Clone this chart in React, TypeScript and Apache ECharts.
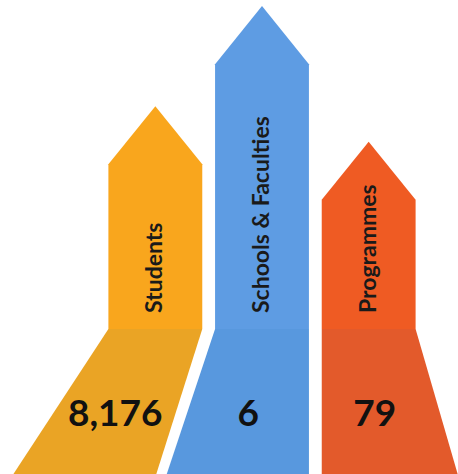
import React, { useEffect, useRef } from "react";
import * as echarts from "echarts";

// Data
const categories = ["Students", "Schools & Faculties", "Programmes"];
const values = [8176, 6, 79];
// Relative arrow heights (0–100 scale, tallest = 100)
const arrowHeight = [69, 100, 58];

const topColors = ["#F9A61D", "#5E9CE3", "#EF5B23"];
const bottomColors = ["#EAA425", "#5898DE", "#E35A2B"];
// slope (dx per dy) of the left / right edges of the lower part of each column
const skew = [
  [-0.655, -0.317],
  [-0.333, 0],
  [0, 0.29],
];

const FONT = "Lato, 'Open Sans', sans-serif";

export default function App() {
  const ref = useRef<HTMLDivElement>(null);
  useEffect(() => {
    document.body.style.margin = "0";
    if (!ref.current) return;
    const chart = echarts.init(ref.current, undefined, { renderer: "svg" });
    chart.setOption({
      animation: false,
      backgroundColor: "#ffffff",
      grid: { left: 102, right: 36, top: 6, bottom: 145 },
      xAxis: { type: "category", data: categories, show: false },
      yAxis: { type: "value", min: 0, max: 100, show: false },
      series: [
        {
          type: "custom",
          clip: false,
          silent: true,
          data: categories.map((c, i) => [c, arrowHeight[i]]),
          renderItem: (params: any, api: any) => {
            const i = params.dataIndex;
            const base = api.coord([api.value(0), 0]);
            const top = api.coord([api.value(0), api.value(1)]);
            const band = api.size([1, 0])[0];
            const half = (band * 0.88) / 2;
            const head = half * 2 * 0.62;
            const cx = base[0];
            const by = base[1];
            const H = api.getHeight();
            const depth = H - by;
            const [sl, sr] = skew[i];
            const shaft = [
              [cx - half, by],
              [cx - half, top[1] + head],
              [cx, top[1]],
              [cx + half, top[1] + head],
              [cx + half, by],
            ];
            const lower = [
              [cx - half, by],
              [cx + half, by],
              [cx + half + sr * depth, H],
              [cx - half + sl * depth, H],
            ];
            const t = 0.57;
            const ly = by + depth * t;
            const lx = (cx - half + sl * depth * t + cx + half + sr * depth * t * 0.5) / 2;
            return {
              type: "group",
              children: [
                {
                  type: "polygon",
                  shape: { points: shaft },
                  style: { fill: topColors[i] },
                },
                {
                  type: "polygon",
                  shape: { points: lower },
                  style: { fill: bottomColors[i] },
                },
                {
                  type: "text",
                  x: cx - 2,
                  y: by - 16,
                  rotation: Math.PI / 2,
                  style: {
                    text: categories[i],
                    fill: "#1a1a1a",
                    fontSize: 23,
                    fontWeight: "bold",
                    fontFamily: FONT,
                    align: "left",
                    verticalAlign: "middle",
                  },
                },
                {
                  type: "text",
                  x: sr < 0 ? (cx - half + sl * depth * t + cx + half + sr * depth * t) / 2 : lx,
                  y: ly,
                  style: {
                    text: values[i].toLocaleString("en-US"),
                    fill: "#111111",
                    fontSize: 37,
                    fontWeight: "bold",
                    fontFamily: FONT,
                    align: "center",
                    verticalAlign: "middle",
                  },
                },
              ],
            };
          },
        },
      ],
    });
    return () => chart.dispose();
  }, []);
  return <div ref={ref} style={{ width: 458, height: 474 }} />;
}
